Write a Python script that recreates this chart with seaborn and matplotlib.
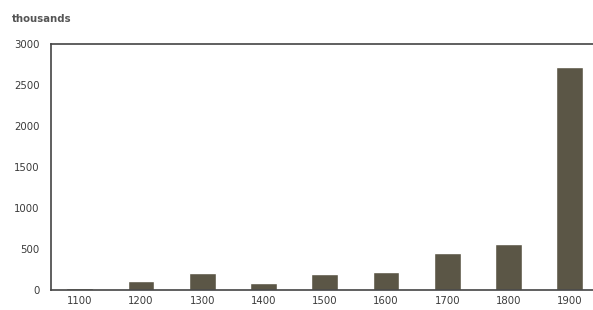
import matplotlib.pyplot as plt
import pandas as pd
import seaborn as sns

# Values (thousands)
centuries = ["1100", "1200", "1300", "1400", "1500", "1600", "1700", "1800", "1900"]
values = [20, 110, 210, 90, 200, 220, 450, 560, 2720]

df = pd.DataFrame({"century": centuries, "value": values})

sns.set_style("white")
plt.rcParams["font.family"] = ["DejaVu Sans"]

fig = plt.figure(figsize=(5.93, 3.10), dpi=100)
ax = fig.add_axes([0.086, 0.0645, 0.914, 0.7935])

sns.barplot(data=df, x="century", y="value", color="#5b5646", width=0.44,
            saturation=1, ax=ax)

ax.set_xlim(-0.47, 8.38)
ax.set_ylim(0, 3000)
ax.set_yticks([0, 500, 1000, 1500, 2000, 2500, 3000])
ax.set_xlabel("")
ax.set_ylabel("")
ax.tick_params(axis="both", length=0, labelsize=7.3, labelcolor="#3a3a3a")
ax.tick_params(axis="y", pad=8)
ax.tick_params(axis="x", pad=4)

for side in ["left", "top", "bottom"]:
    ax.spines[side].set_visible(True)
    ax.spines[side].set_color("#444444")
    ax.spines[side].set_linewidth(1.2)
ax.spines["right"].set_visible(False)

fig.text(0.02, 0.94, "thousands", fontsize=7.3, fontweight="bold",
         color="#555555", ha="left", va="center")

fig.savefig("out.png", dpi=100)
